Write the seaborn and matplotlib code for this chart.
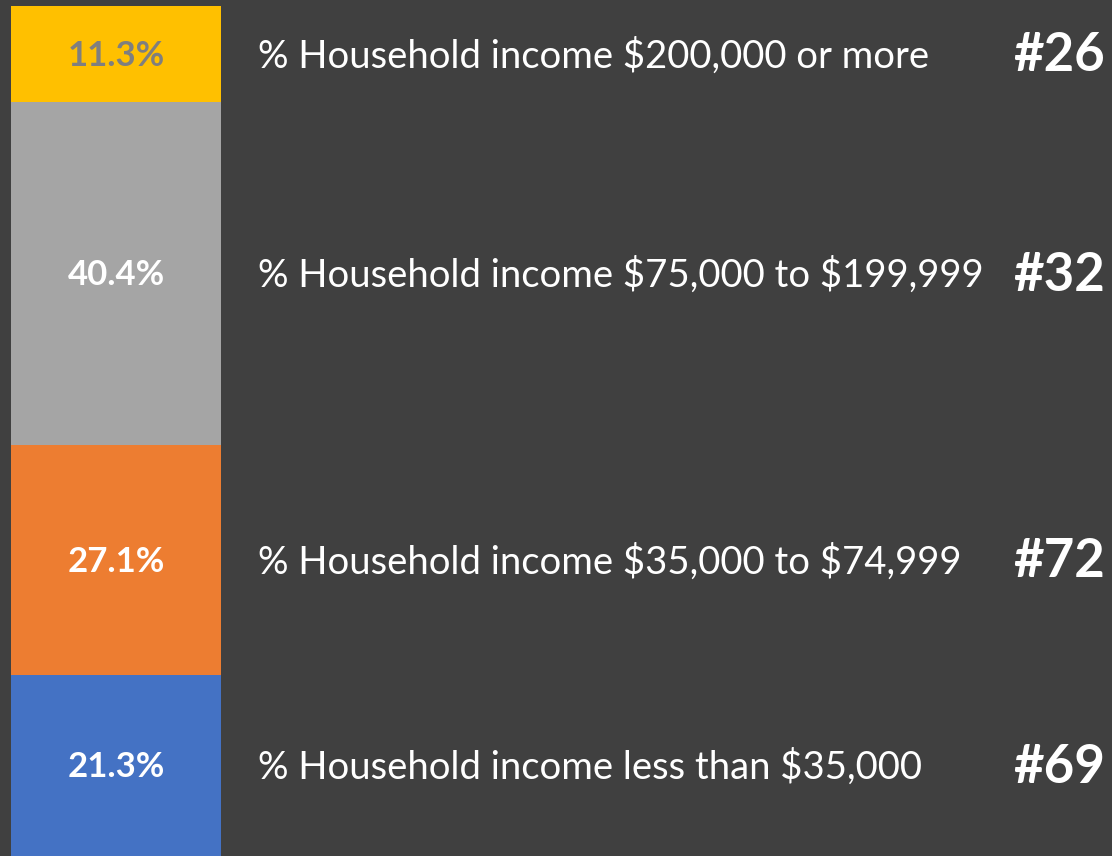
import matplotlib
matplotlib.use('Agg')
import matplotlib.pyplot as plt
import seaborn as sns

# top to bottom
categories = [r'% Household income \$200,000 or more',
              r'% Household income \$75,000 to \$199,999',
              r'% Household income \$35,000 to \$74,999',
              r'% Household income less than \$35,000']
shares = [11.3, 40.4, 27.1, 21.3]
ranks = ['#26', '#32', '#72', '#69']
colors = ['#FFC000', '#A5A5A5', '#ED7D31', '#4472C4']
pct_colors = ['#7F7F7F', 'white', 'white', 'white']

sns.set_style('white')
plt.rcParams['font.family'] = ['Lato', 'DejaVu Sans']

bg = '#404040'
fig = plt.figure(figsize=(11.12, 8.56), dpi=100, facecolor=bg)
ax = fig.add_axes([11 / 1112, 0, 210 / 1112, 850 / 856])
ax.set_facecolor(bg)

# stacked bar: draw cumulative totals from the top segment down
total = sum(shares)
tops = []
running = total
for s in shares:
    tops.append(running)
    running -= s

for top, c in zip(tops, colors):
    sns.barplot(x=[0], y=[top], color=c, width=1.0, saturation=1,
                linewidth=0, ax=ax)

ax.set_xlim(-0.5, 0.5)
ax.set_ylim(0, total)
ax.axis('off')

tr = ax.get_yaxis_transform()
for cat, s, top, r, pc in zip(categories, shares, tops, ranks, pct_colors):
    mid = top - s / 2 - 0.2
    ax.text(0, mid, f'{s:.1f}%', ha='center', va='center', color=pc,
            fontsize=25, fontweight='bold')
    ax.text(1.176, mid, cat, transform=tr, ha='left', va='center',
            color='white', fontsize=27.5, clip_on=False)
    ax.text(4.77, mid, r, transform=tr, ha='left', va='center',
            color='white', fontsize=38, fontweight='bold', clip_on=False)

fig.savefig('out.png', dpi=100, facecolor=bg)
